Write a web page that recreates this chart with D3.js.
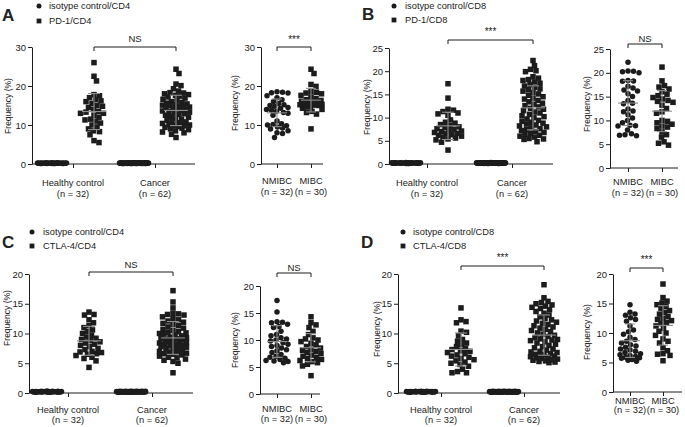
<!DOCTYPE html>
<html><head><meta charset="utf-8">
<script src="https://cdn.jsdelivr.net/npm/d3@7"></script>
<style>
body{margin:0;background:#fff}
text{font-family:"Liberation Sans",Arial,Helvetica,sans-serif;fill:#222}
</style></head>
<body><svg id="c" width="685" height="427"></svg>
<script>
// ---------------- data ----------------
const mainCategories = ["Healthy control", "Cancer"];
const mainCounts = ["(n = 32)", "(n = 62)"];
const subCategories = ["NMIBC", "MIBC"];
const subCounts = ["(n = 32)", "(n = 30)"];

// isotype controls (near zero)
const isoCD4HC = [0.21,0.18,0.25,0.12,0.30,0.16,0.22,0.19,0.27,0.14,0.20,0.24,0.17,0.11,0.28,0.23,0.15,0.26,0.19,0.21,0.13,0.32,0.18,0.22,0.20,0.16,0.25,0.29,0.14,0.23,0.17,0.20];
const isoCD4Ca = [0.19,0.24,0.15,0.28,0.21,0.12,0.26,0.18,0.22,0.30,0.16,0.20,0.25,0.13,0.23,0.27,0.17,0.21,0.19,0.14,0.29,0.22,0.18,0.24,0.11,0.26,0.20,0.16,0.23,0.31,0.15,
                  0.21,0.18,0.25,0.13,0.27,0.20,0.17,0.22,0.28,0.14,0.24,0.19,0.26,0.12,0.21,0.23,0.16,0.29,0.18,0.20,0.25,0.15,0.22,0.27,0.17,0.19,0.24,0.14,0.21,0.26,0.18];
const isoCD8HC = [0.18,0.23,0.16,0.27,0.20,0.13,0.25,0.19,0.22,0.29,0.15,0.21,0.24,0.12,0.26,0.18,0.20,0.17,0.23,0.28,0.14,0.21,0.19,0.25,0.16,0.22,0.30,0.18,0.24,0.13,0.20,0.26];
const isoCD8Ca = [0.22,0.17,0.26,0.14,0.20,0.28,0.19,0.23,0.15,0.25,0.21,0.12,0.27,0.18,0.24,0.16,0.30,0.20,0.22,0.13,0.26,0.19,0.17,0.29,0.21,0.15,0.23,0.18,0.25,0.11,0.20,
                  0.24,0.16,0.27,0.19,0.22,0.14,0.26,0.18,0.21,0.28,0.15,0.23,0.20,0.25,0.12,0.19,0.27,0.17,0.22,0.24,0.13,0.21,0.29,0.18,0.20,0.26,0.16,0.23,0.14,0.25,0.19];

// A: PD-1/CD4
const pd1CD4HC = [26,22.5,21.3,17.8,17.5,17,16.5,16.2,16,15.5,15,14.8,14.5,14,13.5,13.3,13,13,12.5,12,11.5,11.3,11,10.5,10,9.5,9,8.5,8.3,7.5,6,5.5];
const pd1CD4Ca = [24.3,23.2,20.5,20.1,19.3,18.7,18.3,18.2,18,17.8,17.6,17.4,17.2,16.9,16.6,16.3,16,15.8,15.6,15.4,15.2,15.1,15,14.9,14.8,14.6,14.4,14.2,14.1,14,13.8,13.6,13.5,13.3,13.1,12.9,12.7,12.5,12.2,12,11.8,11.5,11.2,11,10.8,10.6,10.4,10.2,10.1,10,9.9,9.8,9.6,9.4,9.2,9,8.8,8.5,8.2,8,7.6,6.8];
const pd1CD4NMIBC = [18.5,18.4,18.3,18.2,17.5,17,16.5,16,15.5,15.2,15,14.8,14.5,14.3,14,13.8,13.5,13.2,13,12.5,11,10.3,10.1,10,9.8,9.5,9.2,9,8.5,8,7.8,6.8];
const pd1CD4MIBC = [24.3,23.2,20.4,19.9,18.6,18.4,18.2,18,17.6,17.2,16.8,16.5,16.3,16.1,16,15.8,15.6,15.5,15.3,15.2,15.1,15,14.8,14.6,14.3,14,13.5,13.2,12.8,9];

// B: PD-1/CD8
const pd1CD8HC = [17.3,14.2,11.8,11.6,11.3,11,10.8,10.5,9.5,9,8.8,8.5,8.3,8,7.8,7.6,7.5,7.3,7.1,7,6.8,6.6,6.5,6.3,6.2,6,5.8,5.6,5.4,5.2,4.7,3];
const pd1CD8Ca = [22.3,21.2,20.4,20.1,19.9,18.8,18.5,18.2,18,17.7,17.4,17.1,16.8,16.5,16.2,16,15.7,15.4,15.1,14.8,14.5,14.2,14,13.7,13.4,13.1,12.9,12.6,12.3,12,11.8,11.5,11.2,11,10.7,10.4,10.2,10,9.7,9.4,9.2,9,8.8,8.6,8.4,8.2,8,7.8,7.6,7.4,7.2,7,6.8,6.6,6.4,6.2,5.8,5.5,5.3,5.4,4.8,6];
const pd1CD8NMIBC = [22.2,20.4,20.3,20.2,20,18.4,18.3,18.2,17.2,16.8,16.4,16.2,15.6,15,14.2,13.6,13.5,12.4,12,11.8,11.2,10.5,10,9.5,9,8.9,8.8,8,7.2,7,6.9,6.8];
const pd1CD8MIBC = [21.2,18.3,17.3,17,16.6,16,15.5,15.2,14.8,14.5,14.2,14,13.8,13.2,12.5,11.8,11.5,10,9.8,9.5,9.2,8.8,8.6,8.3,7.6,7,6.5,5.5,5.2,4.8];

// C: CTLA-4/CD4
const ctlaCD4HC = [13.6,13.2,13.1,12.3,11.8,11.3,11,10.6,10.3,10,9.7,9.4,9.2,9,8.8,8.6,8.4,8.2,8,7.8,7.5,7.3,7,6.9,6.8,6.6,6.5,6.3,6,5.8,5.4,4.3];
const ctlaCD4Ca = [17.2,15.3,14.3,13.4,13.3,13.2,13.1,12.8,12.5,12.3,12.1,11.9,11.7,11.5,11.3,11.1,10.9,10.7,10.5,10.3,10.2,10.1,10,9.9,9.8,9.6,9.4,9.3,9.2,9.1,9,8.9,8.8,8.6,8.5,8.4,8.3,8.2,8.1,8,7.9,7.8,7.7,7.6,7.5,7.3,7.2,7,6.9,6.8,6.7,6.6,6.5,6.4,6.2,6,5.9,5.7,5.5,5.3,5,3.4];
const ctlaCD4NMIBC = [17.3,15.2,13.4,13.3,13.2,12.9,12.5,12.3,11.6,11,10.8,10.4,10.2,10,9.8,9.5,9.2,9,8.8,8.5,8.2,8,7.7,7.3,7,6.8,6.6,6.4,6.2,6.1,6,5.8];
const ctlaCD4MIBC = [14.3,13.2,12.8,12.3,11.6,11,10.4,10.2,10,9.7,9.4,9.1,8.8,8.5,8.3,8.1,7.9,7.7,7.5,7.2,7,6.8,6.6,6.4,6.2,6,5.8,5.5,5.2,3.4];

// D: CTLA-4/CD8
const ctlaCD8HC = [14.3,12.3,12,11.8,10.4,10.2,9.6,9,8.7,8.4,8.1,7.8,7.5,7.3,7.1,7,6.8,6.6,6.4,6.2,6,5.8,5.6,5.4,5.2,5,4.8,4.5,4,3.6,3.4,3.4];
const ctlaCD8Ca = [18.2,16,15.4,15.2,15,14.8,14.6,14.4,14.2,14,13.7,13.4,13.1,12.8,12.5,12.3,12.1,11.9,11.7,11.5,11.3,11.1,10.9,10.7,10.5,10.3,10.1,9.9,9.7,9.5,9.3,9.1,9,8.9,8.8,8.6,8.4,8.2,8,7.8,7.6,7.4,7.2,7,6.9,6.8,6.6,6.5,6.4,6.3,6.2,6.1,6,5.9,5.8,5.7,5.6,5.5,5.4,5.3,5.2,5.1];
const ctlaCD8NMIBC = [14.8,13.5,13.2,13,12.6,12.3,12,11.2,10.5,10.2,9.8,9.3,8.9,8.6,8.3,8,7.8,7.6,7.3,7.1,6.9,6.7,6.5,6.3,6.2,6,5.9,5.8,5.7,5.5,5.4,5.2];
const ctlaCD8MIBC = [18.3,16,15.4,15.1,14.8,14.5,14.2,13.8,13.5,13.2,12.8,12.5,12.3,12.1,11.8,11.6,11.2,10.8,10.3,10,9.6,9,8.6,8.3,7.5,7,6.5,6.4,6.2,5.3];

const ticks30 = [0,10,20,30];
const ticks25 = [0,5,10,15,20,25];
const ticks20 = [0,5,10,15,20];

// ---------------- layout ----------------
const panels = [
 {letter:"A", lx:2, ly:21, legend:{x:39, y:[6,21], tx:49, labels:["isotype control/CD4","PD-1/CD4"]},
  main:{x0:32,x1:195,y0:164,y1:47,ymax:30,ticks:ticks30,centers:[73,155],d:21,by:47,sy:38,sig:"NS",lab:[186,197],tx:8,ty:106,
        iso:[isoCD4HC,isoCD4Ca], mk:[pd1CD4HC,pd1CD4Ca]},
  sub:{x0:261,x1:323,y0:164,y1:47,ymax:30,ticks:ticks30,centers:[277,311],by:47,sy:39,sig:"***",lab:[184,195],tx:235,ty:103,
        g:[pd1CD4NMIBC,pd1CD4MIBC]}},
 {letter:"B", lx:362, ly:20, legend:{x:394, y:[6,20], tx:405, labels:["isotype control/CD8","PD-1/CD8"]},
  main:{x0:389,x1:553,y0:164,y1:48,ymax:25,ticks:ticks25,centers:[427,512],d:21,by:40,sy:31,sig:"***",lab:[186,197],tx:367,ty:107,
        iso:[isoCD8HC,isoCD8Ca], mk:[pd1CD8HC,pd1CD8Ca]},
  sub:{x0:610,x1:678,y0:168,y1:49,ymax:25,ticks:ticks25,centers:[628,662],by:44,sy:38,sig:"NS",lab:[185,196],tx:587,ty:104,
        g:[pd1CD8NMIBC,pd1CD8MIBC]}},
 {letter:"C", lx:2, ly:248, legend:{x:32, y:[232,246], tx:43, labels:["isotype control/CD4","CTLA-4/CD4"]},
  main:{x0:29,x1:193,y0:393,y1:274,ymax:20,ticks:ticks20,centers:[68,152],d:21,by:272,sy:264,sig:"NS",lab:[413,423],tx:7,ty:318,
        iso:[isoCD4HC,isoCD4Ca], mk:[ctlaCD4HC,ctlaCD4Ca]},
  sub:{x0:260,x1:320,y0:394,y1:286,ymax:20,ticks:ticks20,centers:[277,311],by:273,sy:267,sig:"NS",lab:[412,422],tx:235,ty:340,
        g:[ctlaCD4NMIBC,ctlaCD4MIBC]}},
 {letter:"D", lx:361, ly:248, legend:{x:403, y:[232,246], tx:413, labels:["isotype control/CD8","CTLA-4/CD8"]},
  main:{x0:398,x1:560,y0:393,y1:274,ymax:20,ticks:ticks20,centers:[441,524],d:20,by:266,sy:257,sig:"***",lab:[413,423],tx:377,ty:329,
        iso:[isoCD8HC,isoCD8Ca], mk:[ctlaCD8HC,ctlaCD8Ca]},
  sub:{x0:613,x1:682,y0:392,y1:274,ymax:20,ticks:ticks20,centers:[630,663],by:268,sy:259,sig:"***",lab:[404,413],tx:587,ty:332,
        g:[ctlaCD8NMIBC,ctlaCD8MIBC]}}
];

const svg = d3.select("#c");
const INK = "#1c1c1c";
const MS = 5.5; // marker size

function swarm(vals, y, cx, maxHalf, size) {
  const pts = vals.map(v => ({v, y: y(v)})).sort((a,b) => a.y - b.y);
  const placed = [];
  const step = 0.5, kmax = Math.floor(maxHalf/step);
  for (const p of pts) {
    let best = 0, bestD = -1;
    outer: for (let k = 0; k <= kmax; k++) {
      for (const s of (k === 0 ? [0] : [k, -k])) {
        const off = s*step;
        let minD = Infinity;
        for (const q of placed) {
          const dx = q.x - (cx+off), dy = q.y - p.y;
          const dd = Math.sqrt(dx*dx + dy*dy);
          if (dd < minD) minD = dd;
        }
        if (minD >= size*0.95) { best = off; bestD = Infinity; break outer; }
        if (minD > bestD) { bestD = minD; best = off; }
      }
    }
    p.x = cx + best;
    placed.push(p);
  }
  return pts;
}

function drawPts(g, pts, shape) {
  if (shape === "circle") {
    g.selectAll(null).data(pts).join("circle")
      .attr("cx", p => p.x).attr("cy", p => p.y).attr("r", MS/2).attr("fill", INK);
  } else {
    g.selectAll(null).data(pts).join("rect")
      .attr("x", p => p.x - MS/2).attr("y", p => p.y - MS/2)
      .attr("width", MS).attr("height", MS).attr("fill", INK);
  }
}

function drawStats(g, vals, y, cx, mh, ch) {
  const m = d3.mean(vals), sd = d3.deviation(vals);
  const L = (x1,y1,x2,y2) => g.append("line").attr("x1",x1).attr("y1",y1).attr("x2",x2).attr("y2",y2)
    .attr("stroke", "#8f8f8f").attr("stroke-width", 1.1);
  L(cx-mh, y(m), cx+mh, y(m));
  L(cx, y(m-sd), cx, y(m+sd));
  L(cx-ch, y(m-sd), cx+ch, y(m-sd));
  L(cx-ch, y(m+sd), cx+ch, y(m+sd));
}

function axes(g, c, y, xc) {
  const ya = g.append("g").attr("transform", `translate(${c.x0},0)`)
    .call(d3.axisLeft(y).tickValues(c.ticks).tickSize(4).tickSizeOuter(0).tickPadding(2));
  ya.select(".domain").attr("stroke", INK);
  ya.selectAll(".tick line").attr("stroke", INK);
  ya.selectAll(".tick text").attr("font-size", 9.5).attr("font-family", "Liberation Sans, Arial").attr("fill", "#333");
  const xa = g.append("g").attr("transform", `translate(0,${c.y0})`)
    .call(d3.axisBottom(xc).tickSize(4).tickSizeOuter(0).tickFormat(""));
  xa.select(".domain").remove();
  xa.selectAll(".tick line").attr("stroke", INK);
  g.append("line").attr("x1", c.x0).attr("x2", c.x1).attr("y1", c.y0).attr("y2", c.y0)
    .attr("stroke", INK).attr("stroke-width", 1);
  g.append("text").attr("transform", `translate(${c.tx},${c.ty}) rotate(-90)`)
    .attr("text-anchor", "middle").attr("dominant-baseline", "central").attr("font-size", 8.5)
    .text("Frequency (%)");
}

function bracket(g, xa, xb, yb, sig, sy) {
  g.append("path").attr("d", `M${xa},${yb+4}V${yb}H${xb}V${yb+4}`)
    .attr("fill", "none").attr("stroke", INK).attr("stroke-width", 1);
  g.append("text").attr("x", (xa+xb)/2).attr("y", sy).attr("text-anchor", "middle")
    .attr("dominant-baseline", "central").attr("font-size", sig === "NS" ? 9.5 : 10).text(sig);
}

function xLabels(g, xc, cats, counts, lab) {
  cats.forEach((cat, i) => {
    g.append("text").attr("x", xc(cat)).attr("y", lab[0]).attr("text-anchor", "middle").attr("font-size", 9.3).text(cat);
    g.append("text").attr("x", xc(cat)).attr("y", lab[1]).attr("text-anchor", "middle").attr("font-size", 9.3).text(counts[i]);
  });
}

panels.forEach(P => {
  const g = svg.append("g");
  g.append("text").attr("x", P.lx).attr("y", P.ly).attr("font-size", 17).attr("font-weight", "bold").attr("fill", "#111").text(P.letter);
  g.append("circle").attr("cx", P.legend.x).attr("cy", P.legend.y[0]).attr("r", 2.5).attr("fill", INK);
  g.append("rect").attr("x", P.legend.x-2.4).attr("y", P.legend.y[1]-2.4).attr("width", 4.8).attr("height", 4.8).attr("fill", INK);
  P.legend.labels.forEach((t, i) => g.append("text").attr("x", P.legend.tx).attr("y", P.legend.y[i])
    .attr("dominant-baseline", "central").attr("font-size", 9.3).text(t));

  const c = P.main;
  const y = d3.scaleLinear().domain([0, c.ymax]).range([c.y0, c.y1]);
  const xc = d3.scalePoint().domain(mainCategories).range(c.centers);
  const xs = d3.scalePoint().domain(["iso", "marker"]).range([-c.d, c.d]);
  axes(g, c, y, xc);
  mainCategories.forEach((cat, i) => {
    const cxI = xc(cat) + xs("iso"), cxM = xc(cat) + xs("marker");
    drawPts(g, swarm(c.iso[i], y, cxI, 14.5, MS), "circle");
    drawPts(g, swarm(c.mk[i], y, cxM, 13.5, MS), "square");
    drawStats(g, c.mk[i], y, cxM, 12, 6);
  });
  bracket(g, xc(mainCategories[0]) + xs("marker"), xc(mainCategories[1]) + xs("marker"), c.by, c.sig, c.sy);
  xLabels(g, xc, mainCategories, mainCounts, c.lab);

  const s = P.sub;
  const y2 = d3.scaleLinear().domain([0, s.ymax]).range([s.y0, s.y1]);
  const xc2 = d3.scalePoint().domain(subCategories).range(s.centers);
  axes(g, s, y2, xc2);
  subCategories.forEach((cat, i) => {
    drawPts(g, swarm(s.g[i], y2, xc2(cat), 11, MS), i === 0 ? "circle" : "square");
    drawStats(g, s.g[i], y2, xc2(cat), 10, 5);
  });
  bracket(g, xc2(subCategories[0]), xc2(subCategories[1]), s.by, s.sig, s.sy);
  xLabels(g, xc2, subCategories, subCounts, s.lab);
});
</script></body></html>
